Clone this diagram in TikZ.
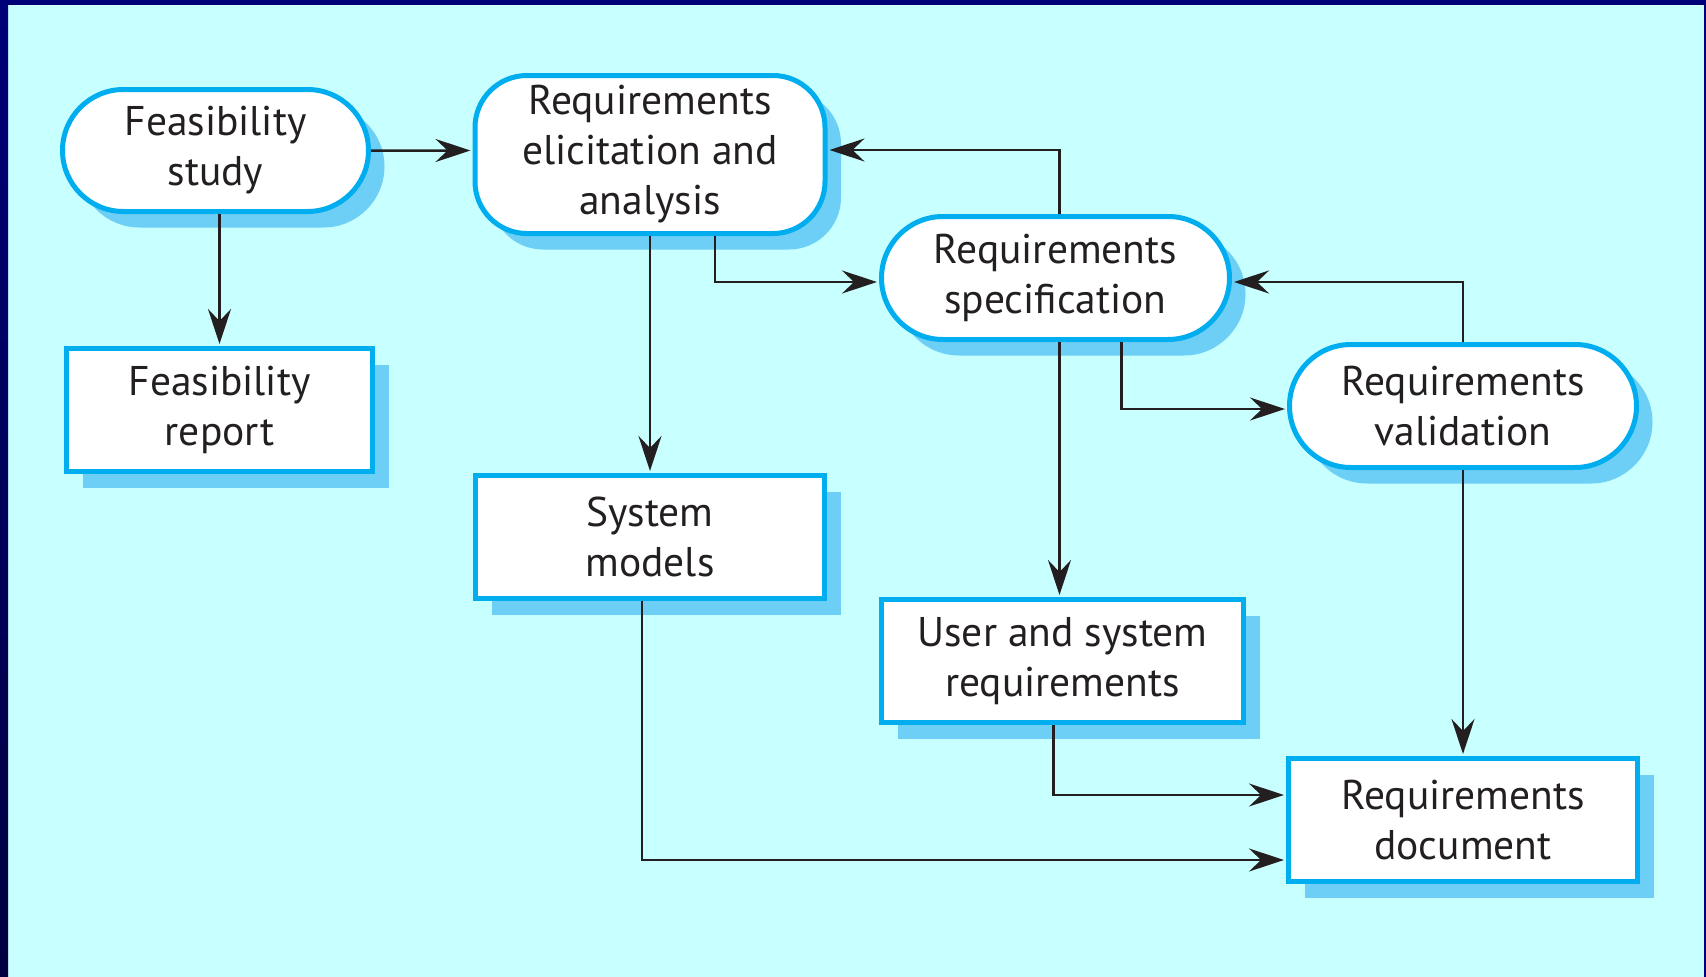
\documentclass[tikz,border=0pt]{standalone}
\usepackage{fontspec}
\setmainfont{PT Sans}
\usepackage{tikz}
\usetikzlibrary{arrows.meta, positioning, shapes.misc, shadows}
\usepackage{xcolor}
\definecolor{pagecyan}{HTML}{C8FFFF}
\definecolor{framenavy}{HTML}{000078}
\definecolor{framedark}{HTML}{000040}
\definecolor{edgeblue}{HTML}{00AEEF}
\definecolor{shadeblue}{HTML}{6DCFF6}
\definecolor{inkblack}{HTML}{231F20}
\tikzset{%
	every stage/.style={
		draw=edgeblue,
		line width=5pt,
		fill=white,
		text=inkblack,
		align=center,
		inner sep=0pt,
		font=\fontsize{41.5}{50}\selectfont,
		drop shadow={shadow xshift=16pt, shadow yshift=-16pt, fill=shadeblue, opacity=1}
	},
	activity/.style={
		every stage,
		rounded rectangle,
		minimum width=306pt,
		minimum height=122pt
	},
	product/.style={
		every stage,
		rectangle,
		minimum height=123pt
	},
	flow/.style={
		draw=inkblack,
		line width=2.5pt,
		-{Stealth[length=35pt, width=23pt, inset=12pt]},
		shorten >=2pt
	},
}
\begin{document}
\begin{tikzpicture}[x=1pt, y=-1pt]
			\fill[pagecyan] (0,0) rectangle (1706,977);
			\fill[framenavy] (0,0) rectangle (1706,5);
			\shade[top color=framenavy, bottom color=framedark] (0,0) rectangle (8,977);
			\fill[framenavy] (1704,0) rectangle (1706,977);
			\useasboundingbox (0,0) rectangle (1706,977);
			% activities
			\node[activity] (feas) at (215.5,150.5) {Feasibility\\study};
			\node[every stage, rectangle, rounded corners=52pt, minimum width=350pt, minimum height=158pt] (elicit) at (650,154.5) {Requirements\\elicitation and\\analysis};
			\node[activity, minimum width=348pt, minimum height=123pt] (spec) at (1055.5,278) {Requirements\\specification};
			\node[activity, minimum width=347pt, minimum height=123pt] (valid) at (1463,406) {Requirements\\validation};
			% documents
			\node[product, minimum width=306pt] (report) at (219.5,410) {Feasibility\\report};
			\node[product, minimum width=349pt] (models) at (650,537) {System\\models};
			\node[product, minimum width=362pt] (usr) at (1062.5,661) {User and system\\requirements};
			\node[product, minimum width=349pt] (doc) at (1463,820) {Requirements\\document};
			% flows
			\draw[flow] (feas) -- (elicit.west |- feas);
			\draw[flow] (report.north |- feas.south) -- (report.north);
			\draw[flow] (elicit.south) -- (models.north);
			\draw[flow] ([xshift=65pt]elicit.south) |- ([yshift=-4pt]spec.west);
			\draw[flow] ([xshift=4pt]spec.north) |- ([yshift=4.5pt]elicit.east);
			\draw[flow] ([xshift=66pt]spec.south) |- ([yshift=-3pt]valid.west);
			\draw[flow] (valid.north) |- ([yshift=-4pt]spec.east);
			\draw[flow] ([xshift=4pt]spec.south) -- ([xshift=4pt]spec.south |- usr.north);
			\draw[flow] (valid.south) -- (doc.north);
			\draw[flow] ([xshift=-9pt]usr.south) |- ([yshift=25pt]doc.west);
			\draw[flow] ([xshift=-8pt]models.south) |- ([yshift=-40pt]doc.west);
		\end{tikzpicture}
\end{document}
